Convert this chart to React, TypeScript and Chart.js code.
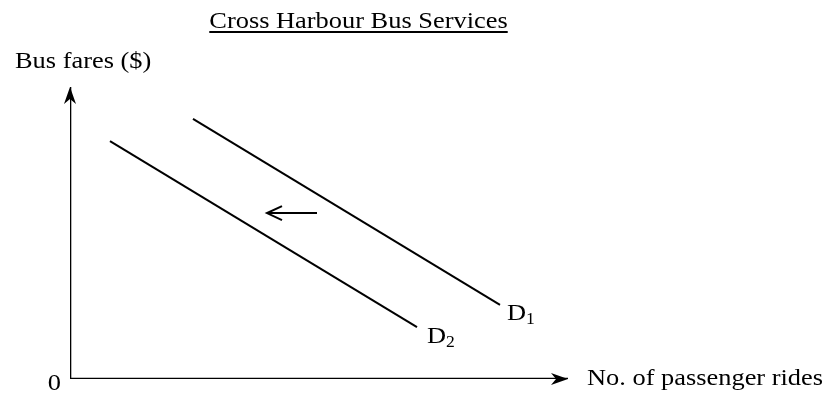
import React, { useEffect, useRef } from "react";
import { Chart, registerables } from "chart.js";

Chart.register(...registerables);

// Axis extents (data units)
const xAxisLine = [ { x: 0, y: 0 }, { x: 99.6, y: 0 } ];
const yAxisLine = [ { x: 0, y: 0 }, { x: 0, y: 97.3 } ];
// Demand curves
const demandD1 = [ { x: 24.6, y: 86.7 }, { x: 86.0, y: 24.7 } ];
const demandD2 = [ { x: 8.0, y: 79.3 }, { x: 69.4, y: 17.3 } ];
// Shift arrow (from -> to)
const shiftArrow = [ { x: 49.4, y: 55.3 }, { x: 39.4, y: 55.3 } ];

const titleText = "Cross Harbour Bus Services";
const yAxisTitle = "Bus fares ($)";
const xAxisTitle = "No. of passenger rides";
const originLabel = "0";
const curveLabels = ["D", "D"];
const curveSubs = ["1", "2"];

// Label anchors in data units
const titleAnchor = { x: 57.7, y: 117.0 };
const yTitleAnchor = { x: -11.0, y: 103.7 };
const xTitleAnchor = { x: 103.4, y: -2.0 };
const originAnchor = { x: -1.8, y: -3.7 };
const curveLabelAnchors = [ { x: 87.4, y: 19.7 }, { x: 71.4, y: 12.0 } ];

const FONT = '"Liberation Serif", "Times New Roman", Times, serif';
const SX = 1.1;

function drawText(ctx: CanvasRenderingContext2D, text: string, x: number, y: number, size: number, align: "left" | "center" | "right") {
  ctx.save();
  ctx.font = `${size}px ${FONT}`;
  ctx.textBaseline = "alphabetic";
  ctx.textAlign = "left";
  const w = ctx.measureText(text).width * SX;
  let lx = x;
  if (align === "center") lx = x - w / 2;
  if (align === "right") lx = x - w;
  ctx.translate(lx, y);
  ctx.scale(SX, 1);
  ctx.fillText(text, 0, 0);
  ctx.restore();
  return w;
}

const annotPlugin = {
  id: "annot",
  afterDatasetsDraw(chart: any) {
    const ctx: CanvasRenderingContext2D = chart.ctx;
    const xs = chart.scales.x;
    const ys = chart.scales.y;
    const px = (v: number) => xs.getPixelForValue(v);
    const py = (v: number) => ys.getPixelForValue(v);
    ctx.save();
    ctx.fillStyle = "#000";
    ctx.strokeStyle = "#000";

    // Filled axis arrowheads
    const xt = xAxisLine[1];
    const tx = px(xt.x), ty = py(xt.y);
    ctx.beginPath();
    ctx.moveTo(tx, ty);
    ctx.lineTo(tx - 17, ty - 6);
    ctx.lineTo(tx - 12, ty);
    ctx.lineTo(tx - 17, ty + 6);
    ctx.closePath();
    ctx.fill();

    const yt = yAxisLine[1];
    const ux = px(yt.x), uy = py(yt.y);
    ctx.beginPath();
    ctx.moveTo(ux, uy);
    ctx.lineTo(ux - 6, uy + 17);
    ctx.lineTo(ux, uy + 12);
    ctx.lineTo(ux + 6, uy + 17);
    ctx.closePath();
    ctx.fill();

    // Open arrowhead for shift arrow
    const ah = shiftArrow[1];
    const ax = px(ah.x), ay = py(ah.y);
    ctx.lineWidth = 2;
    ctx.beginPath();
    ctx.moveTo(ax + 15, ay - 7);
    ctx.lineTo(ax, ay);
    ctx.lineTo(ax + 15, ay + 7);
    ctx.stroke();

    // Title with underline
    const tw = drawText(ctx, titleText, px(titleAnchor.x), py(titleAnchor.y), 24, "center");
    ctx.fillRect(px(titleAnchor.x) - tw / 2, py(titleAnchor.y) + 3, tw, 2);

    drawText(ctx, yAxisTitle, px(yTitleAnchor.x), py(yTitleAnchor.y), 24, "left");
    drawText(ctx, xAxisTitle, px(xTitleAnchor.x), py(xTitleAnchor.y), 24, "left");
    drawText(ctx, originLabel, px(originAnchor.x), py(originAnchor.y), 24, "right");

    curveLabels.forEach((lab, i) => {
      const a = curveLabelAnchors[i];
      const w = drawText(ctx, lab, px(a.x), py(a.y), 24, "left");
      drawText(ctx, curveSubs[i], px(a.x) + w, py(a.y) + 4, 16, "left");
    });
    ctx.restore();
  },
};

export default function App() {
  const ref = useRef<HTMLCanvasElement | null>(null);
  useEffect(() => {
    document.body.style.margin = "0";
    let chart: Chart | null = null;
    let cancelled = false;
    const build = () => {
      if (cancelled || !ref.current) return;
      const line = (data: any[], w: number) => ({
        data,
        showLine: true,
        borderColor: "#000",
        borderWidth: w,
        pointRadius: 0,
        fill: false,
      });
      chart = new Chart(ref.current, {
        type: "scatter",
        data: {
          datasets: [
            line(xAxisLine, 2.6),
            line(yAxisLine, 2.6),
            line(demandD1, 2),
            line(demandD2, 2),
            line(shiftArrow, 2),
          ],
        },
        options: {
          animation: false,
          responsive: false,
          maintainAspectRatio: false,
          layout: { padding: { left: 70, right: 258, top: 79, bottom: 15 } },
          scales: {
            x: { type: "linear", min: 0, max: 100, display: false },
            y: { type: "linear", min: 0, max: 100, display: false },
          },
          plugins: {
            legend: { display: false },
            tooltip: { enabled: false },
            title: { display: false },
          },
          elements: { line: { borderCapStyle: "butt" } },
        },
        plugins: [annotPlugin],
      });
    };
    const fonts: any = (document as any).fonts;
    if (fonts && fonts.load) {
      Promise.all([
        fonts.load('24px "Liberation Serif"'),
        fonts.load('16px "Liberation Serif"'),
      ]).then(build, build);
    } else {
      build();
    }
    return () => {
      cancelled = true;
      if (chart) chart.destroy();
    };
  }, []);
  return (
    <div style={{ width: 828, height: 394, background: "#fff" }}>
      <span style={{ fontFamily: '"Liberation Serif"', position: "absolute", left: -9999, top: 0 }}>.</span>
      <canvas ref={ref} width={828} height={394} style={{ display: "block" }} />
    </div>
  );
}
